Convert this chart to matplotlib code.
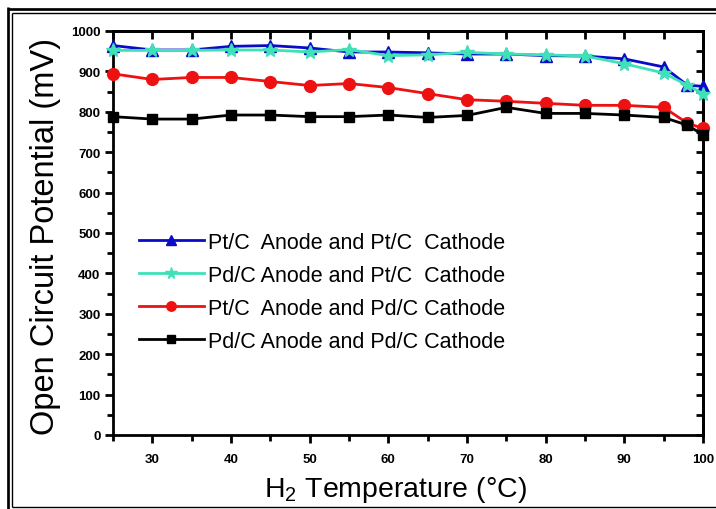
import matplotlib
matplotlib.use("Agg")
import matplotlib.pyplot as plt
from matplotlib.lines import Line2D
from matplotlib.ticker import MultipleLocator

plt.rcParams["font.family"] = ["Liberation Sans", "DejaVu Sans"]
plt.rcParams["mathtext.fontset"] = "custom"
plt.rcParams["mathtext.rm"] = "Liberation Sans"

# Temperatura H2 (°C)
temperature = [25, 30, 35, 40, 45, 50, 55, 60, 65, 70, 75, 80, 85, 90, 95, 98, 100]

# Potencjał obwodu otwartego (mV)
pt_pt = [964, 953, 953, 962, 964, 958, 948, 948, 946, 943, 943, 939, 938, 931, 911, 866, 863]
pd_pt = [952, 952, 952, 953, 953, 948, 954, 939, 941, 947, 943, 941, 938, 919, 896, 866, 845]
pt_pd = [894, 880, 885, 885, 875, 865, 870, 860, 845, 830, 826, 821, 816, 816, 811, 772, 759]
pd_pd = [788, 782, 782, 792, 792, 788, 788, 792, 786, 791, 811, 796, 796, 792, 786, 767, 743]

labels = [
    "Pt/C  Anode and Pt/C  Cathode",
    "Pd/C Anode and Pt/C  Cathode",
    "Pt/C  Anode and Pd/C Cathode",
    "Pd/C Anode and Pd/C Cathode",
]

W, H = 716, 510
fig = plt.figure(figsize=(W / 100, H / 100), dpi=100)
ax = fig.add_axes([113 / W, 1 - 436 / H, 590 / W, 404 / H])

ax.plot(temperature, pt_pt, color="#0a0ac8", lw=2, marker="^", ms=8.5, label=labels[0], clip_on=False, zorder=4)
ax.plot(temperature, pd_pt, color="#40e0b8", lw=2, marker="*", ms=10.5, label=labels[1], clip_on=False, zorder=5)
ax.plot(temperature, pt_pd, color="#ee1111", lw=2, marker="o", ms=8.5, label=labels[2], clip_on=False, zorder=3)
ax.plot(temperature, pd_pd, color="black", lw=2, marker="s", ms=7, label=labels[3], clip_on=False, zorder=3)

ax.set_xlim(25, 100)
ax.set_ylim(0, 1000)
ax.xaxis.set_major_locator(MultipleLocator(10))
ax.xaxis.set_minor_locator(MultipleLocator(5))
ax.yaxis.set_major_locator(MultipleLocator(100))
ax.yaxis.set_minor_locator(MultipleLocator(50))
ax.set_xticks([30, 40, 50, 60, 70, 80, 90, 100])

for s in ax.spines.values():
    s.set_linewidth(2)

ax.tick_params(axis="both", which="major", direction="out", length=6, width=2,
               labelsize=9.5, pad=3)
ax.tick_params(axis="x", which="major", pad=7)
ax.tick_params(axis="both", which="minor", direction="out", length=4, width=2)
for lab in ax.get_xticklabels() + ax.get_yticklabels():
    lab.set_fontweight("bold")

# górna i prawa oś z kreskami do środka
top = ax.secondary_xaxis("top")
top.xaxis.set_major_locator(MultipleLocator(10))
top.xaxis.set_minor_locator(MultipleLocator(5))
top.tick_params(which="both", direction="in", length=6, width=2, labeltop=False)
top.spines["top"].set_linewidth(2)
right = ax.secondary_yaxis("right")
right.yaxis.set_major_locator(MultipleLocator(100))
right.yaxis.set_minor_locator(MultipleLocator(50))
right.tick_params(which="both", direction="in", length=5, width=2, labelright=False)
right.spines["right"].set_linewidth(2)

ax.set_ylabel("Open Circuit Potential (mV)", fontsize=23.5)
ax.yaxis.set_label_coords(-0.115, 0.495)
ax.yaxis.label.set_va("center")
ax.set_xlabel("H$_2$ Temperature (°C)", fontsize=20.5)
ax.xaxis.set_label_coords(0.478, -0.151)
ax.xaxis.label.set_va("baseline")

ax.legend(loc="upper left", bbox_to_anchor=(139 / W, 1 - 233 / H), bbox_transform=fig.transFigure,
          frameon=False, fontsize=15.5, handlelength=3.0, handletextpad=0.2,
          labelspacing=0.55, borderpad=0, borderaxespad=0, markerscale=0.8)

# podwójna ramka obrazka
def px_line(x0, y0, x1, y1, lw):
    fig.add_artist(Line2D([x0 / W, x1 / W], [1 - y0 / H, 1 - y1 / H], color="black",
                          lw=lw * 0.72, transform=fig.transFigure, solid_capstyle="butt"))

px_line(8, 9.7, W, 9.7, 2.7)
px_line(8, 8.4, 8, H, 2.7)
px_line(11.8, 14, W, 14, 1.4)
px_line(11.8, 14, 11.8, 508, 1.4)
px_line(11.8, 508, W, 508, 1.4)

fig.savefig("out.png", dpi=100)
